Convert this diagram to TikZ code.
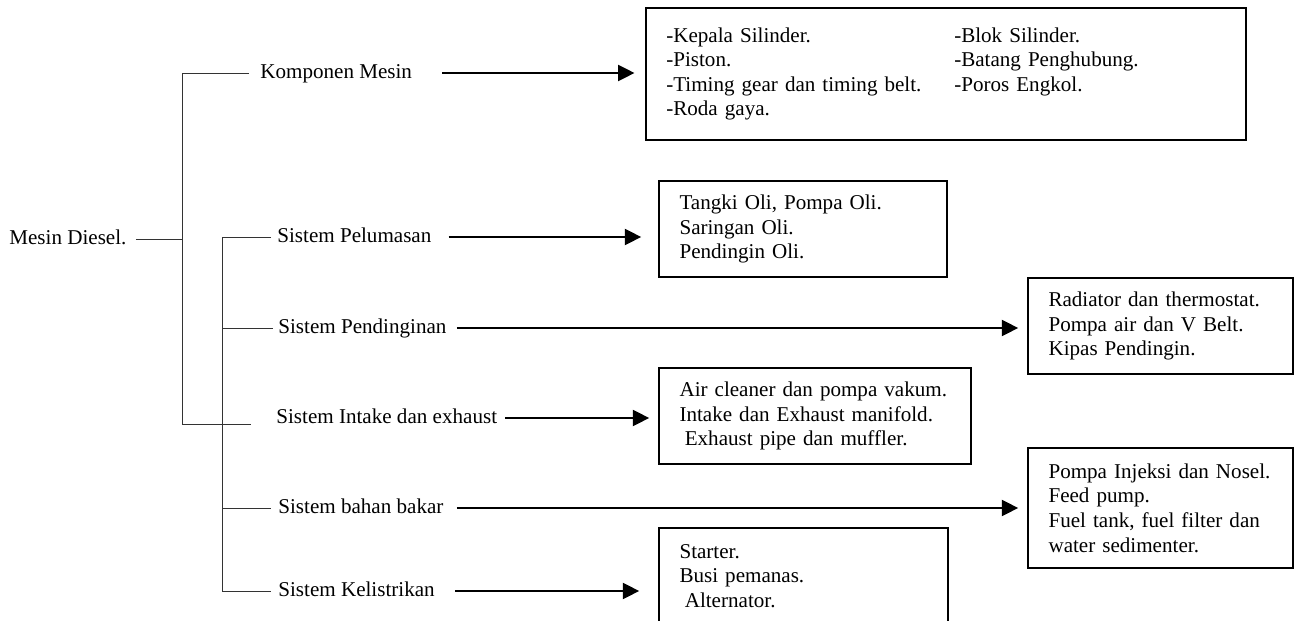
\documentclass[tikz,border=0pt]{standalone}
\usepackage{fontspec}
\setmainfont{Liberation Serif}
\usetikzlibrary{arrows.meta,positioning}

\tikzset{
  lbl/.style={inner sep=0pt, anchor=west, text height=1.5ex, text depth=.25ex},
  bx/.style={draw, line width=0.9pt, align=left, inner xsep=0.41cm, inner ysep=0pt},
  tree/.style={line width=0.5pt, draw=black!80},
  arr/.style={line width=1.4pt, -{Triangle[length=0.33cm,width=0.32cm]}},
}

\begin{document}
\begin{tikzpicture}[x=0.02cm, y=-0.02cm, font=\fontsize{12pt}{14pt}\selectfont]
    \useasboundingbox (0,0) rectangle (1302,621);   % Page size
    \clip (0,0) rectangle (1302,621);

    \pgfmathsetmacro {\tx}{182}   %x of main trunk
    \pgfmathsetmacro {\sx}{222}   %x of sub trunk

    %Root and branch labels
    \node[lbl] (md)  at (9,239)   {Mesin Diesel.};
    \node[lbl] (kmp) at (260,73)  {Komponen Mesin};
    \node[lbl] (pel) at (277,237) {Sistem Pelumasan};
    \node[lbl] (pdg) at (278,328) {Sistem Pendinginan};
    \node[lbl] (itk) at (276,418) {Sistem Intake dan exhaust};
    \node[lbl] (bbk) at (278,508) {Sistem bahan bakar};
    \node[lbl] (kls) at (278,591) {Sistem Kelistrikan};

    %Boxes with the parts
    \node[bx, text width=11.19cm, minimum height=2.64cm] (kmpbox) at (946,74)
        {\raisebox{2pt}{\begin{tabular}{@{}p{5.76cm}@{}l@{}}
         -Kepala Silinder. & -Blok Silinder.\\
         -Piston. & -Batang Penghubung.\\
         -Timing gear dan timing belt. & -Poros Engkol.\\
         -Roda gaya. &
         \end{tabular}}};
    \node[bx, text width=4.94cm, minimum height=1.92cm] (pelbox) at (803,229)
        {Tangki Oli, Pompa Oli.\\ Saringan Oli.\\ Pendingin Oli.};
    \node[bx, text width=4.48cm, minimum height=1.92cm] (pdgbox) at (1160.5,326)
        {Radiator dan thermostat.\\ Pompa air dan V Belt.\\ Kipas Pendingin.};
    \node[bx, text width=5.42cm, minimum height=1.92cm] (itkbox) at (815,416)
        {Air cleaner dan pompa vakum.\\ Intake dan Exhaust manifold.\\ \hspace*{3pt}Exhaust pipe dan muffler.};
    \node[bx, text width=4.48cm, minimum height=2.4cm] (bbkbox) at (1160.5,508)
        {\mbox{Pompa Injeksi dan Nosel.}\\ Feed pump.\\ Fuel tank, fuel filter dan\\ water sedimenter.};
    \node[bx, text width=4.96cm, minimum height=1.92cm] (klsbox) at (803.5,576)
        {Starter.\\ Busi pemanas.\\ \hspace*{3pt}Alternator.};

    %Trunk points
    \coordinate (tb)  at (\tx,424);   %Bottom of main trunk
    \coordinate (tbe) at (251,424);   %End of bottom branch
    \coordinate (sb)  at (\sx,591);   %Bottom of sub trunk

    %Draw tree lines
    \draw[tree, shorten <=0.18cm] (md.east) -- (md.east -| tb);
    \draw[tree, shorten <=0.22cm] (kmp.west) -| (tb) -- (tbe);
    \draw[tree, shorten <=0.12cm, shorten >=0.14cm] (pel.west) -| (sb) -- (kls.west);
    \draw[tree, shorten >=0.1cm] (pdg.west -| sb) -- (pdg.west);
    \draw[tree, shorten >=0.14cm] (bbk.west -| sb) -- (bbk.west);

    %Draw arrows to the boxes
    \draw[arr, shorten <=0.6cm,  shorten >=0.21cm] (kmp.east) -- (kmp.east -| kmpbox.west);
    \draw[arr, shorten <=0.34cm, shorten >=0.34cm] (pel.east) -- (pel.east -| pelbox.west);
    \draw[arr, shorten <=0.2cm,  shorten >=0.18cm] (pdg.east) -- (pdg.east -| pdgbox.west);
    \draw[arr, shorten <=0.16cm, shorten >=0.18cm] (itk.east) -- (itk.east -| itkbox.west);
    \draw[arr, shorten <=0.26cm, shorten >=0.18cm] (bbk.east) -- (bbk.east -| bbkbox.west);
    \draw[arr, shorten <=0.4cm,  shorten >=0.38cm] (kls.east) -- (kls.east -| klsbox.west);
\end{tikzpicture}
\end{document}
